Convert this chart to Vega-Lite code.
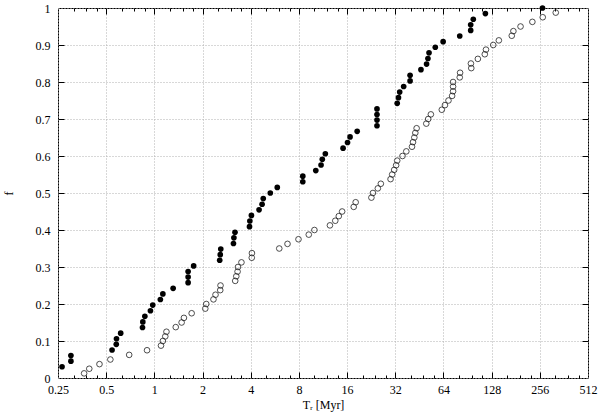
{
  "$schema": "https://vega.github.io/schema/vega-lite/v6.json",
  "width": 530,
  "height": 370,
  "autosize": {"type": "none"},
  "padding": {"left": 58, "top": 8, "right": 12, "bottom": 37},
  "background": "white",
  "config": {
    "view": {"stroke": "black", "strokeWidth": 1},
    "axis": {
      "labelFont": "Liberation Serif",
      "titleFont": "Liberation Serif",
      "labelFontSize": 12,
      "titleFontSize": 12,
      "titleFontWeight": "normal",
      "labelColor": "black",
      "titleColor": "black",
      "tickColor": "black",
      "tickWidth": 1,
      "gridColor": "#b0b0b0",
      "gridDash": [1, 2],
      "gridWidth": 1,
      "labelFlush": false,
      "labelOverlap": false
    }
  },
  "datasets": {
    "filled": [
      {"T": 0.265, "f": 0.0303}, {"T": 0.301, "f": 0.0455}, {"T": 0.301, "f": 0.0606},
      {"T": 0.544, "f": 0.0758}, {"T": 0.578, "f": 0.0909}, {"T": 0.58, "f": 0.1061},
      {"T": 0.616, "f": 0.1212}, {"T": 0.843, "f": 0.1364}, {"T": 0.847, "f": 0.1515},
      {"T": 0.872, "f": 0.1667}, {"T": 0.945, "f": 0.1818}, {"T": 0.977, "f": 0.197},
      {"T": 1.09, "f": 0.2121}, {"T": 1.13, "f": 0.2273}, {"T": 1.31, "f": 0.2424},
      {"T": 1.625, "f": 0.2576}, {"T": 1.625, "f": 0.2727}, {"T": 1.625, "f": 0.2879},
      {"T": 1.76, "f": 0.303}, {"T": 2.56, "f": 0.3182}, {"T": 2.58, "f": 0.3333},
      {"T": 2.6, "f": 0.3485}, {"T": 3.12, "f": 0.3636}, {"T": 3.14, "f": 0.3788},
      {"T": 3.19, "f": 0.3939}, {"T": 3.93, "f": 0.4091}, {"T": 3.95, "f": 0.4242},
      {"T": 4.04, "f": 0.4394}, {"T": 4.51, "f": 0.4545}, {"T": 4.71, "f": 0.4697},
      {"T": 4.79, "f": 0.4848}, {"T": 5.3, "f": 0.5}, {"T": 5.86, "f": 0.5152},
      {"T": 8.46, "f": 0.5303}, {"T": 8.46, "f": 0.5455}, {"T": 10.2, "f": 0.5606},
      {"T": 11.0, "f": 0.5758}, {"T": 11.2, "f": 0.5909}, {"T": 11.7, "f": 0.6061},
      {"T": 15.1, "f": 0.6212}, {"T": 16.1, "f": 0.6364}, {"T": 16.7, "f": 0.6515},
      {"T": 18.5, "f": 0.6667}, {"T": 24.6, "f": 0.6818}, {"T": 24.6, "f": 0.697},
      {"T": 24.6, "f": 0.7121}, {"T": 24.6, "f": 0.7273}, {"T": 32.9, "f": 0.7424},
      {"T": 33.5, "f": 0.7576}, {"T": 34.1, "f": 0.7727}, {"T": 36.1, "f": 0.7879},
      {"T": 39.6, "f": 0.803}, {"T": 39.6, "f": 0.8182}, {"T": 46.3, "f": 0.8333},
      {"T": 50.2, "f": 0.8485}, {"T": 51.2, "f": 0.8636}, {"T": 52.0, "f": 0.8788},
      {"T": 56.9, "f": 0.8939}, {"T": 63.7, "f": 0.9091}, {"T": 80.9, "f": 0.9242},
      {"T": 94.7, "f": 0.9394}, {"T": 94.7, "f": 0.9545}, {"T": 98.3, "f": 0.9697},
      {"T": 117, "f": 0.9848}, {"T": 266, "f": 1.0}
    ],
    "open": [
      {"T": 0.364, "f": 0.0125}, {"T": 0.392, "f": 0.025}, {"T": 0.454, "f": 0.0375},
      {"T": 0.531, "f": 0.05}, {"T": 0.696, "f": 0.0625}, {"T": 0.9, "f": 0.075},
      {"T": 1.1, "f": 0.0875}, {"T": 1.13, "f": 0.1}, {"T": 1.17, "f": 0.1125},
      {"T": 1.19, "f": 0.125}, {"T": 1.36, "f": 0.1375}, {"T": 1.48, "f": 0.15},
      {"T": 1.53, "f": 0.1625}, {"T": 1.71, "f": 0.175}, {"T": 2.08, "f": 0.1875},
      {"T": 2.11, "f": 0.2}, {"T": 2.34, "f": 0.2125}, {"T": 2.41, "f": 0.225},
      {"T": 2.58, "f": 0.2375}, {"T": 2.59, "f": 0.25}, {"T": 3.2, "f": 0.2625},
      {"T": 3.25, "f": 0.275}, {"T": 3.31, "f": 0.2875}, {"T": 3.33, "f": 0.3},
      {"T": 3.5, "f": 0.3125}, {"T": 4.06, "f": 0.325}, {"T": 4.07, "f": 0.3375},
      {"T": 6.03, "f": 0.35}, {"T": 6.79, "f": 0.3625}, {"T": 7.95, "f": 0.375},
      {"T": 9.22, "f": 0.3875}, {"T": 10.0, "f": 0.4}, {"T": 12.5, "f": 0.4125},
      {"T": 13.5, "f": 0.425}, {"T": 14.2, "f": 0.4375}, {"T": 14.9, "f": 0.45},
      {"T": 17.6, "f": 0.4625}, {"T": 18.1, "f": 0.475}, {"T": 22.7, "f": 0.4875},
      {"T": 23.2, "f": 0.5}, {"T": 24.9, "f": 0.5125}, {"T": 26.0, "f": 0.525},
      {"T": 29.9, "f": 0.5375}, {"T": 30.6, "f": 0.55}, {"T": 31.5, "f": 0.5625},
      {"T": 32.4, "f": 0.575}, {"T": 32.9, "f": 0.5875}, {"T": 35.5, "f": 0.6},
      {"T": 37.5, "f": 0.6125}, {"T": 40.7, "f": 0.625}, {"T": 41.3, "f": 0.6375},
      {"T": 42.1, "f": 0.65}, {"T": 42.7, "f": 0.6625}, {"T": 43.5, "f": 0.675},
      {"T": 50.0, "f": 0.6875}, {"T": 51.4, "f": 0.7}, {"T": 53.4, "f": 0.7125},
      {"T": 62.5, "f": 0.725}, {"T": 65.4, "f": 0.7375}, {"T": 68.8, "f": 0.75},
      {"T": 72.5, "f": 0.7625}, {"T": 73.5, "f": 0.775}, {"T": 73.5, "f": 0.7875},
      {"T": 73.5, "f": 0.8}, {"T": 80.9, "f": 0.8125}, {"T": 81.3, "f": 0.825},
      {"T": 95.5, "f": 0.8375}, {"T": 95.0, "f": 0.85}, {"T": 105, "f": 0.8625},
      {"T": 116, "f": 0.875}, {"T": 118, "f": 0.8875}, {"T": 131, "f": 0.9},
      {"T": 142, "f": 0.9125}, {"T": 171, "f": 0.925}, {"T": 175, "f": 0.9375},
      {"T": 194, "f": 0.95}, {"T": 230, "f": 0.9625}, {"T": 267, "f": 0.975},
      {"T": 322, "f": 0.9875}
    ]
  },
  "resolve": {"axis": {"x": "independent", "y": "independent"}},
  "layer": [
    {
      "data": {"name": "filled"},
      "mark": {"type": "point", "shape": "circle", "filled": true, "color": "black", "size": 32, "opacity": 1},
      "encoding": {
        "x": {
          "field": "T", "type": "quantitative",
          "scale": {"type": "log", "base": 2, "domain": [0.25, 512], "nice": false},
          "axis": {
            "orient": "bottom", "title": "Tᵣ [Myr]", "values": [0.25, 0.5, 1, 2, 4, 8, 16, 32, 64, 128, 256, 512],
            "format": "~g", "grid": true, "ticks": false, "tickSize": 0, "domain": false,
            "labelPadding": 6, "titlePadding": 4
          }
        },
        "y": {
          "field": "f", "type": "quantitative",
          "scale": {"domain": [0, 1], "nice": false},
          "axis": {
            "orient": "left", "title": "f", "values": [0, 0.1, 0.2, 0.3, 0.4, 0.5, 0.6, 0.7, 0.8, 0.9, 1],
            "format": "~g", "grid": true, "ticks": false, "tickSize": 0, "domain": false,
            "labelPadding": 8, "titlePadding": 20
          }
        }
      }
    },
    {
      "data": {"name": "open"},
      "mark": {"type": "point", "shape": "circle", "filled": false, "stroke": "#222222", "strokeWidth": 0.8, "size": 32, "opacity": 1},
      "encoding": {
        "x": {
          "field": "T", "type": "quantitative",
          "scale": {"type": "log", "base": 2, "domain": [0.25, 512], "nice": false},
          "axis": {
            "orient": "bottom", "title": null, "values": [0.5, 1, 2, 4, 8, 16, 32, 64, 128, 256],
            "grid": false, "labels": false, "domain": false, "ticks": true, "tickSize": 6, "offset": -6
          }
        },
        "y": {
          "field": "f", "type": "quantitative",
          "scale": {"domain": [0, 1], "nice": false},
          "axis": {
            "orient": "left", "title": null, "values": [0.1, 0.2, 0.3, 0.4, 0.5, 0.6, 0.7, 0.8, 0.9],
            "grid": false, "labels": false, "domain": false, "ticks": true, "tickSize": 6, "offset": -6
          }
        }
      }
    },
    {
      "data": {"name": "open"},
      "mark": {"type": "point", "opacity": 0},
      "encoding": {
        "x": {
          "field": "T", "type": "quantitative",
          "scale": {"type": "log", "base": 2, "domain": [0.25, 512], "nice": false},
          "axis": {
            "orient": "top", "title": null, "values": [0.5, 1, 2, 4, 8, 16, 32, 64, 128, 256],
            "grid": false, "labels": false, "domain": false, "ticks": true, "tickSize": 6, "offset": -6
          }
        },
        "y": {
          "field": "f", "type": "quantitative",
          "scale": {"domain": [0, 1], "nice": false},
          "axis": {
            "orient": "right", "title": null, "values": [0.1, 0.2, 0.3, 0.4, 0.5, 0.6, 0.7, 0.8, 0.9],
            "grid": false, "labels": false, "domain": false, "ticks": true, "tickSize": 6, "offset": -6
          }
        }
      }
    },
    {
      "data": {"name": "open"},
      "mark": {"type": "point", "opacity": 0},
      "encoding": {
        "x": {
          "field": "T", "type": "quantitative",
          "scale": {"type": "log", "base": 2, "domain": [0.25, 512], "nice": false},
          "axis": {
            "orient": "bottom", "title": null,
            "values": [0.3125, 0.375, 0.4375, 0.625, 0.75, 0.875, 1.25, 1.5, 1.75, 2.5, 3, 3.5, 5, 6, 7, 10, 12, 14, 20, 24, 28, 40, 48, 56, 80, 96, 112, 160, 192, 224, 320, 384, 448],
            "grid": false, "labels": false, "domain": false, "ticks": true, "tickSize": 3, "offset": -3
          }
        },
        "y": {"field": "f", "type": "quantitative", "scale": {"domain": [0, 1], "nice": false}, "axis": null}
      }
    },
    {
      "data": {"name": "open"},
      "mark": {"type": "point", "opacity": 0},
      "encoding": {
        "x": {
          "field": "T", "type": "quantitative",
          "scale": {"type": "log", "base": 2, "domain": [0.25, 512], "nice": false},
          "axis": {
            "orient": "top", "title": null,
            "values": [0.3125, 0.375, 0.4375, 0.625, 0.75, 0.875, 1.25, 1.5, 1.75, 2.5, 3, 3.5, 5, 6, 7, 10, 12, 14, 20, 24, 28, 40, 48, 56, 80, 96, 112, 160, 192, 224, 320, 384, 448],
            "grid": false, "labels": false, "domain": false, "ticks": true, "tickSize": 3, "offset": -3
          }
        },
        "y": {"field": "f", "type": "quantitative", "scale": {"domain": [0, 1], "nice": false}, "axis": null}
      }
    }
  ]
}
